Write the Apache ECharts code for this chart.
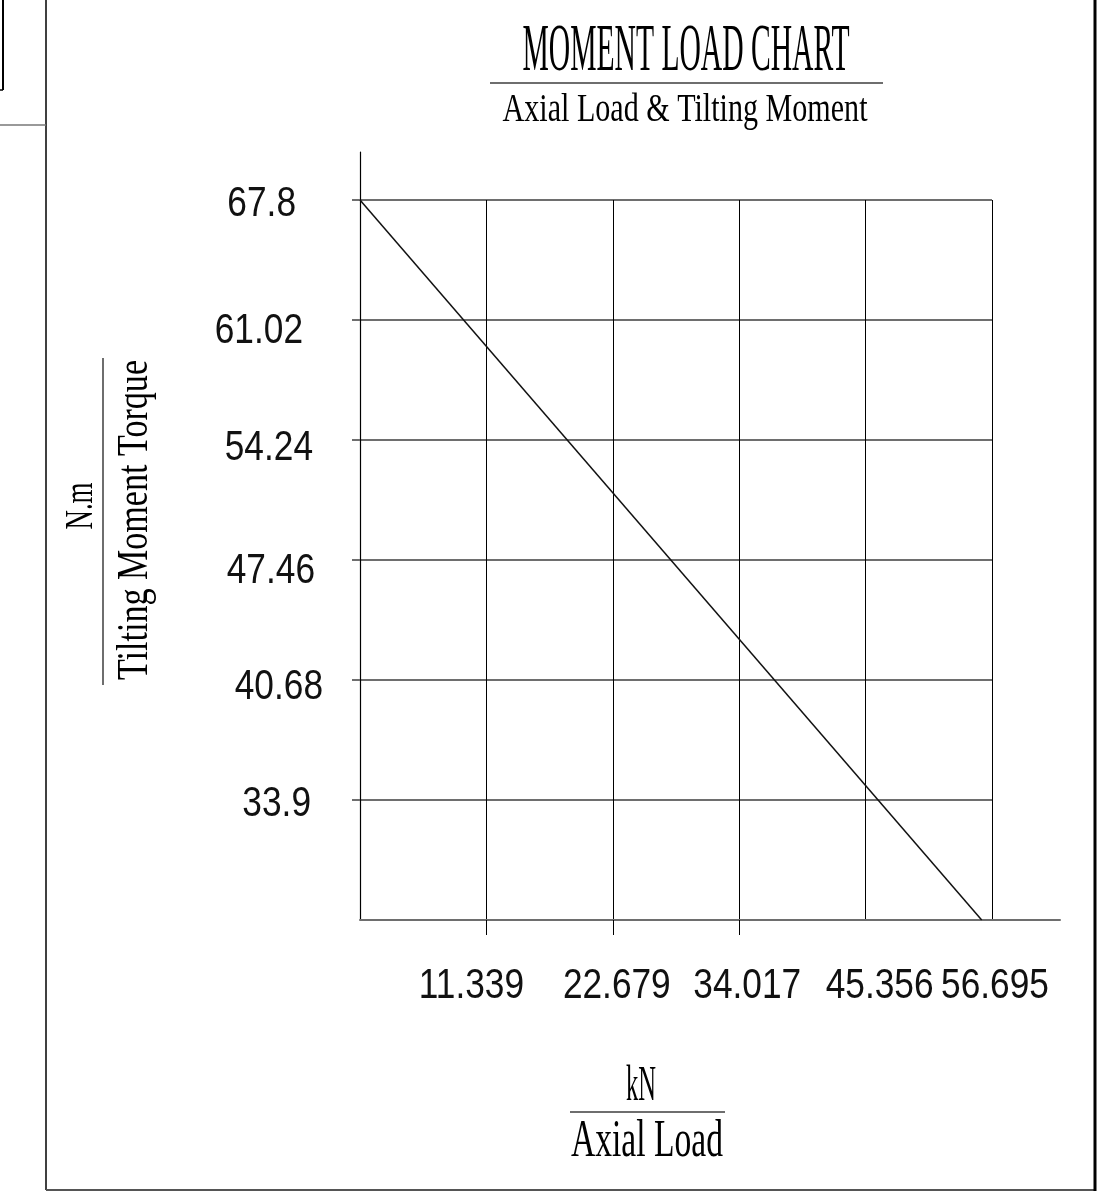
<!DOCTYPE html>
<html>
<head>
<meta charset="utf-8">
<script src="https://cdn.jsdelivr.net/npm/echarts@6/dist/echarts.min.js"></script>
<style>
html,body{margin:0;padding:0;background:#fff;}
#chart{width:1113px;height:1193px;}
</style>
</head>
<body>
<div id="chart"></div>
<script>
// ---- data ----
var xTickLabels = ['11.339', '22.679', '34.017', '45.356', '56.695'];
var yTickLabels = ['33.9', '40.68', '47.46', '54.24', '61.02', '67.8'];
var lineX = [0, 55.77];
var lineY = [67.8, 27.12];
var xMin = 0, xMax = 56.695, xStep = 11.339;
var yMin = 27.12, yMax = 67.8, yStep = 6.78;
var xTickMarks = [11.339, 22.679, 34.017];

// ---- label style tweaks (offsets in px) ----
var xLabelShift = [-15, 4, 8, 14, 3];          // horizontal centre shift
var yLabelRight = [12, 0, 8, 10, 20, 27];      // extra gap from axis
var yLabelDown  = [1, 4, 8, 5, 8, 1];          // downward shift

var NUM_FONT = '"Liberation Sans", Arimo, sans-serif';
var SERIF = '"Liberation Serif", "DejaVu Serif", serif';
var NUM_SIZE = 43, NUM_SCALE = 0.82;

var xVals = xTickLabels.map(Number);
var yVals = yTickLabels.map(Number);

var measureCtx = document.createElement('canvas').getContext('2d');
function fitText(text, cx, cy, size, width, rot) {
  measureCtx.font = size + 'px ' + SERIF;
  var w = measureCtx.measureText(text).width;
  return {
    type: 'text', x: cx, y: cy, rotation: rot || 0,
    scaleX: width / w, scaleY: 1, silent: true,
    style: {
      text: text, fontFamily: SERIF, fontSize: size, fill: '#000',
      align: 'center', verticalAlign: 'middle'
    }
  };
}
function numText(text, x, y, align) {
  return {
    type: 'text', x: x, y: y, scaleX: NUM_SCALE, scaleY: 1, silent: true,
    style: {
      text: text, fontFamily: NUM_FONT, fontSize: NUM_SIZE, fill: '#111',
      align: align, verticalAlign: 'middle'
    }
  };
}
function seg(x1, y1, x2, y2, color, w) {
  return { type: 'line', silent: true, shape: { x1: x1, y1: y1, x2: x2, y2: y2 },
    style: { stroke: color, lineWidth: w } };
}

var chart = echarts.init(document.getElementById('chart'), null, { renderer: 'canvas' });

var PLOT_W = 632, AXIS_W = 700;

var option = {
  backgroundColor: '#fff',
  animation: false,
  grid: [
    { left: 360, top: 200, width: PLOT_W, height: 720 },
    { left: 360, top: 152, width: AXIS_W, height: 768 }
  ],
  xAxis: [
    {
      gridIndex: 0, type: 'value', min: xMin, max: xMax, interval: xStep,
      axisLine: { show: false },
      axisTick: { show: false },
      axisLabel: { show: false },
      splitLine: { show: true, lineStyle: { color: '#000', width: 1 } }
    },
    {
      gridIndex: 1, type: 'value', min: xMin, max: xMax * AXIS_W / PLOT_W,
      axisLine: { show: true, lineStyle: { color: '#6e6e6e', width: 2 } },
      axisTick: { show: true, length: 15, customValues: xTickMarks,
        lineStyle: { color: '#000', width: 1 } },
      axisLabel: { show: false }, splitLine: { show: false }
    }
  ],
  yAxis: [
    {
      gridIndex: 0, type: 'value', min: yMin, max: yMax, interval: yStep,
      axisLine: { show: false },
      axisTick: { show: true, length: 8, customValues: yVals,
        lineStyle: { color: '#6e6e6e', width: 2 } },
      axisLabel: { show: false },
      splitLine: { show: true, lineStyle: { color: '#6e6e6e', width: 2 } }
    },
    {
      gridIndex: 1, type: 'value', min: 0, max: 1,
      axisLine: { show: true, lineStyle: { color: '#000', width: 1.2 } },
      axisTick: { show: false }, axisLabel: { show: false }, splitLine: { show: false }
    }
  ],
  series: [
    {
      type: 'line', xAxisIndex: 0, yAxisIndex: 0,
      data: lineX.map(function (x, i) { return [x, lineY[i]]; }),
      showSymbol: false, symbol: 'none', silent: true,
      lineStyle: { color: '#111', width: 1.5 }
    }
  ]
};
chart.setOption(option);

// ---- tick labels positioned through the axes' own scales ----
var gfx = [];
var axisX = chart.convertToPixel({ xAxisIndex: 0 }, xMin);
var axisY = chart.convertToPixel({ yAxisIndex: 0 }, yMin);
xTickLabels.forEach(function (t, i) {
  var px = chart.convertToPixel({ xAxisIndex: 0 }, xVals[i]);
  gfx.push(numText(t, px + xLabelShift[i], axisY + 66, 'center'));
});
yTickLabels.forEach(function (t, i) {
  var py = chart.convertToPixel({ yAxisIndex: 0 }, yVals[i]);
  gfx.push(numText(t, axisX - 37 - yLabelRight[i], py + yLabelDown[i] + 3, 'right'));
});

gfx = gfx.concat([
  // frame
  seg(46, 0, 46, 1190, '#000', 1.5),
  seg(46, 1190, 1096, 1190, '#555', 2),
  seg(1095, 0, 1095, 1191, '#000', 3),
  seg(3, 0, 3, 90, '#000', 2),
  seg(0, 90, 3, 90, '#000', 1.5),
  seg(0, 125, 46, 125, '#777', 1.5),
  // titles
  fitText('MOMENT LOAD CHART', 686, 52, 68, 327),
  seg(490, 83, 883, 83, '#6e6e6e', 2),
  fitText('Axial Load & Tilting Moment', 685, 110, 40, 365),
  // y name
  fitText('N.m', 81, 506, 41, 47, Math.PI / 2),
  seg(103, 358, 103, 685, '#6e6e6e', 2),
  fitText('Tilting Moment Torque', 135, 520, 44, 320, Math.PI / 2),
  // x name
  fitText('kN', 641, 1087, 50, 30),
  seg(570, 1112, 725, 1112, '#6e6e6e', 2),
  fitText('Axial Load', 647, 1142, 52, 152)
]);
chart.setOption({ graphic: gfx });
</script>
</body>
</html>
